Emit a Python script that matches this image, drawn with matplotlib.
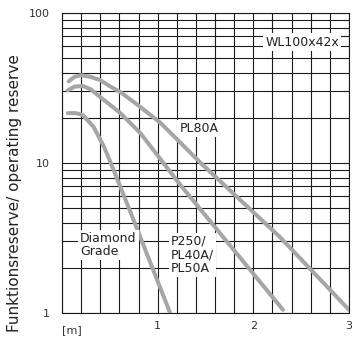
import numpy as np
import matplotlib
matplotlib.use("Agg")
import matplotlib.pyplot as plt
from matplotlib.ticker import MultipleLocator, LogLocator, NullFormatter, FixedLocator, FixedFormatter

# operating reserve curves (distance in m, reserve factor)
pl80a_x = [0.07, 0.13, 0.2, 0.3, 0.4, 0.5, 0.61, 0.75, 0.82, 1.03, 1.24, 1.45, 2.28, 3.0]
pl80a_y = [35, 37.5, 38.5, 37.5, 35.7, 32.5, 29.7, 25.5, 23.6, 18.5, 13.6, 10, 3.2, 1.05]

p250_x = [0.06, 0.13, 0.22, 0.3, 0.4, 0.5, 0.61, 0.82, 1.06, 1.24, 2.31]
p250_y = [30.5, 32.3, 32.6, 31, 27.5, 24.5, 21.5, 15.8, 10, 7.1, 1.05]

diamond_x = [0.06, 0.15, 0.22, 0.33, 0.44, 0.51, 0.74, 1.13]
diamond_y = [21.5, 21.5, 20.8, 17.4, 12.8, 10, 4.3, 1.0]

xtick_vals = [1, 2, 3]
xtick_labels = ["1", "2", "3"]
ytick_vals = [1, 10, 100]
ytick_labels = ["1", "10", "100"]

curve_color = "#a6a6a6"
grid_color = "#1a1a1a"

fig = plt.figure(figsize=(3.61, 3.39), dpi=100)
ax = fig.add_axes([62 / 361, 1 - 313 / 339, 287 / 361, 300 / 339])

ax.set_yscale("log")
ax.set_xlim(0, 3)
ax.set_ylim(1, 100)

ax.xaxis.set_major_locator(FixedLocator(xtick_vals))
ax.xaxis.set_major_formatter(FixedFormatter(xtick_labels))
ax.xaxis.set_minor_locator(MultipleLocator(0.2))
ax.yaxis.set_major_locator(FixedLocator(ytick_vals))
ax.yaxis.set_major_formatter(FixedFormatter(ytick_labels))
ax.yaxis.set_minor_locator(LogLocator(base=10, subs=np.arange(2, 10)))
ax.yaxis.set_minor_formatter(NullFormatter())

ax.grid(which="both", color=grid_color, linewidth=0.8)
ax.set_axisbelow(True)
for s in ax.spines.values():
    s.set_color(grid_color)
    s.set_linewidth(0.8)
ax.tick_params(which="both", length=0, labelsize=8, colors="#333333")
ax.tick_params(axis="y", pad=9)
ax.tick_params(axis="x", pad=6)

for xs, ys in [(pl80a_x, pl80a_y), (p250_x, p250_y), (diamond_x, diamond_y)]:
    ax.plot(xs, ys, color=curve_color, linewidth=2.9, solid_capstyle="round",
            solid_joinstyle="round", zorder=3)

box = dict(facecolor="white", edgecolor="none", pad=1.5)
ax.text(2.51, 64, "WL100x42x", fontsize=9, ha="center", va="center", color="#222222", bbox=box, zorder=4)
ax.text(1.43, 16.9, "PL80A", fontsize=9, ha="center", va="center", color="#222222", bbox=box, zorder=4)
ax.text(0.19, 2.84, "Diamond\nGrade", fontsize=9, ha="left", va="center", color="#222222",
        linespacing=1.05, bbox=box, zorder=4)
ax.text(1.14, 2.44, "P250/\nPL40A/\nPL50A", fontsize=9, ha="left", va="center", color="#222222",
        linespacing=1.05, bbox=box, zorder=4)

ax.text(0.0, -0.04, "[m]", transform=ax.transAxes, fontsize=8, ha="left", va="top", color="#333333")

fig.text(15 / 361, 1 - 193 / 339, "Funktionsreserve/ operating reserve", rotation=90,
         fontsize=11, ha="center", va="center", color="#222222")

fig.savefig("out.png", dpi=100)
